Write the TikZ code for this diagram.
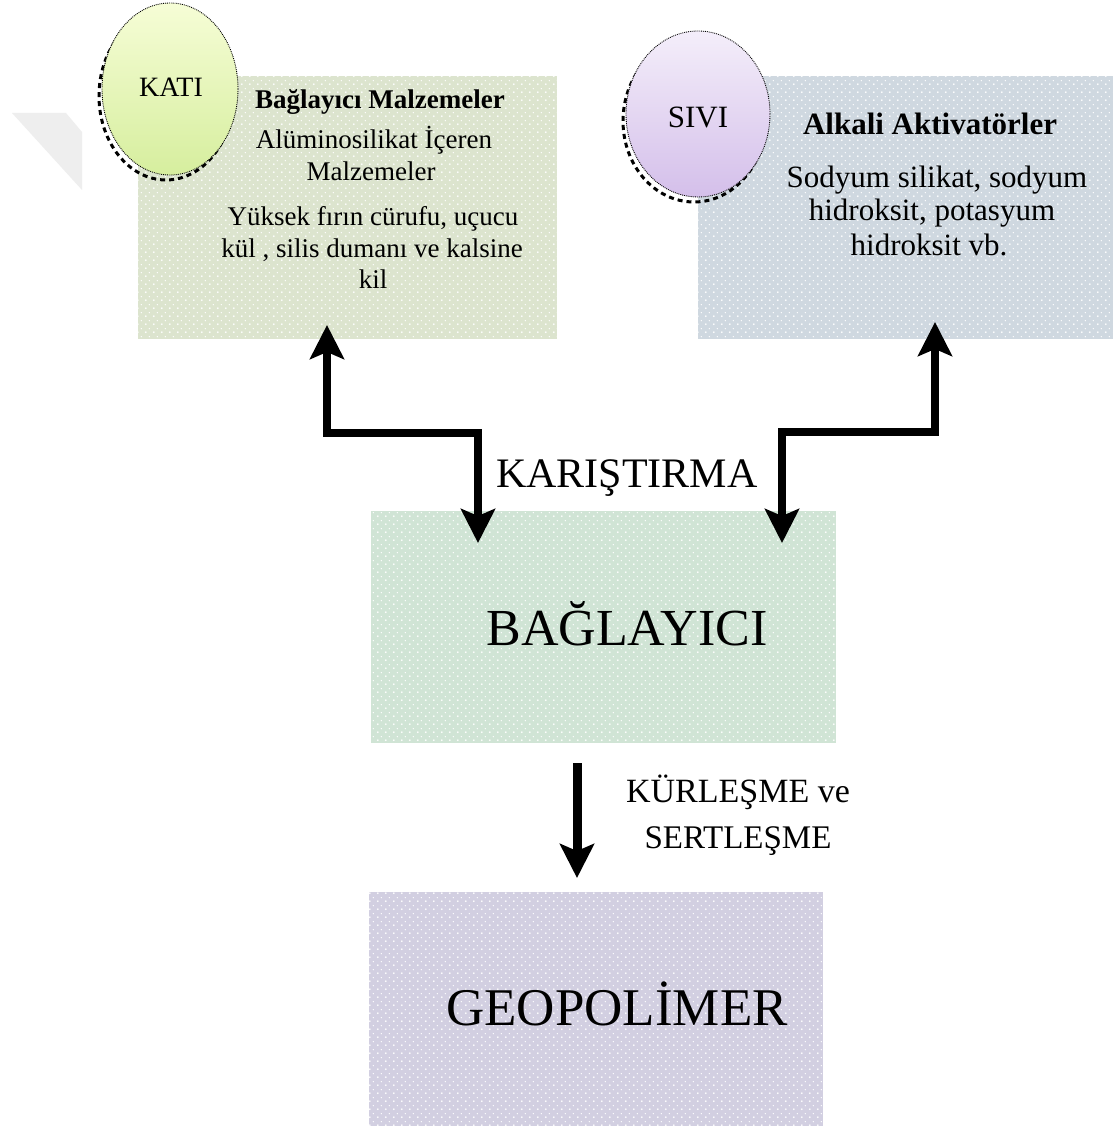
\documentclass[tikz,border=0pt]{standalone}
\usepackage{fontspec}
\setmainfont{Liberation Serif}
\usetikzlibrary{arrows.meta,shapes.geometric,patterns.meta}
\tikzdeclarepattern{
  name=wdots,
  type=uncolored,
  bottom left={(0pt,0pt)},
  top right={(8pt,8pt)},
  tile size={(8pt,8pt)},
  code={\fill (2pt,2pt) circle (1.1pt); \fill (6pt,6pt) circle (0.8pt);}
}
\definecolor{cgreen}{HTML}{DCE4CE}
\definecolor{cblue}{HTML}{CFD8E0}
\definecolor{cmint}{HTML}{D0E4D5}
\definecolor{clav}{HTML}{D2CFE1}
\definecolor{katitop}{HTML}{F6FDD6}
\definecolor{katibot}{HTML}{D6EE9E}
\definecolor{sivitop}{HTML}{F4EEFA}
\definecolor{sivibot}{HTML}{D4BFEA}
\definecolor{wmark}{HTML}{EEEEEE}
\tikzset{
  box/.style={rectangle, draw=none, inner sep=0pt, postaction={pattern=wdots, pattern color=white}},
  blob/.style={ellipse, inner sep=0pt, minimum width=#1},
  blobline/.style={draw=black, line width=0.9pt, densely dotted},
  blobshadow/.style={ellipse, inner sep=0pt, draw=black, line width=3pt, dash pattern=on 5pt off 4pt},
  lbl/.style={inner sep=0pt, anchor=base},
  conn/.style={line width=8pt, line join=miter, -{Stealth[length=34pt,width=34pt,inset=7pt]}},
  biconn/.style={line width=8pt, line join=miter, {Stealth[length=34pt,width=34pt,inset=7pt]}-{Stealth[length=34pt,width=34pt,inset=7pt]}},
}
\begin{document}
\begin{tikzpicture}[x=1pt,y=-1pt]
\useasboundingbox (0,0) rectangle (1113,1126);
\fill[white] (0,0) rectangle (1113,1126);
% faint watermark
\fill[wmark] (12,113) -- (66,113) -- (82,132) -- (82,190) -- cycle;

% boxes
\node[box, fill=cgreen, minimum width=419pt, minimum height=263pt] (solid) at (347.5,207.5) {};
\node[box, fill=cblue, minimum width=415pt, minimum height=263pt] (liquid) at (905.5,207.5) {};
\node[box, fill=cmint, minimum width=465pt, minimum height=232pt] (bind) at (603.5,627) {};
\node[box, fill=clav, minimum width=454pt, minimum height=234pt] (geo) at (596,1009) {};

% ellipses
\node[blobshadow, minimum width=134pt, minimum height=168pt] (katish) at (166,96) {};
\node[blob=136pt, minimum height=172pt, top color=katitop, bottom color=katibot, blobline] (kati) at (170,89) {};
\node[blobshadow, minimum width=142pt, minimum height=162pt] (sivish) at (694,121) {};
\node[blob=144pt, minimum height=166pt, top color=sivitop, bottom color=sivibot, blobline] (sivi) at (698,114) {};
\node[lbl, font=\fontsize{28}{32}\selectfont] (katit) at (171,97) {KATI};
\node[lbl, font=\fontsize{31}{36}\selectfont] (sivit) at (698,128) {SIVI};

% left box text
\node[lbl, font=\fontsize{27}{32}\selectfont\bfseries] (s1) at (380,109) {Bağlayıcı Malzemeler};
\node[lbl, font=\fontsize{27}{32}\selectfont] (s2) at (374,149) {Alüminosilikat İçeren};
\node[lbl, font=\fontsize{27}{32}\selectfont] (s3) at (371,181) {Malzemeler};
\node[lbl, font=\fontsize{27}{32}\selectfont] (s4) at (373,225) {Yüksek fırın cürufu, uçucu};
\node[lbl, font=\fontsize{27}{32}\selectfont] (s5) at (372,257) {kül , silis dumanı ve kalsine};
\node[lbl, font=\fontsize{27}{32}\selectfont] (s6) at (373,288) {kil};

% right box text
\node[lbl, font=\fontsize{31}{36}\selectfont\bfseries] (l1) at (930,135) {Alkali Aktivatörler};
\node[lbl, font=\fontsize{31}{36}\selectfont] (l2) at (937,187) {Sodyum silikat, sodyum};
\node[lbl, font=\fontsize{31}{36}\selectfont] (l3) at (932,220) {hidroksit, potasyum};
\node[lbl, font=\fontsize{31}{36}\selectfont] (l4) at (929,255) {hidroksit vb.};

% main labels
\node[lbl, font=\fontsize{42}{48}\selectfont] (mix) at (627,487) {KARIŞTIRMA};
\node[lbl, font=\fontsize{52}{60}\selectfont] (bindt) at (627,645) {BAĞLAYICI};
\node[lbl, font=\fontsize{34}{40}\selectfont] (cure1) at (738,802) {KÜRLEŞME ve};
\node[lbl, font=\fontsize{33}{40}\selectfont] (cure2) at (738,848) {SERTLEŞME};
\node[lbl, font=\fontsize{53}{60}\selectfont] (geot) at (617,1025) {GEOPOLİMER};

% connector end points
\coordinate (lt) at (327,325);
\coordinate (lm) at (478,433);
\coordinate (lb) at (478,543);
\coordinate (rt) at (935,322);
\coordinate (rm) at (782,432);
\coordinate (rb) at (782,543);
\coordinate (dt) at (577,763);
\coordinate (db) at (577,878);

\draw[biconn] (lt) |- (lm) -- (lb);
\draw[biconn] (rt) |- (rm) -- (rb);
\draw[conn, line width=9pt] (dt) -- (db);
\end{tikzpicture}
\end{document}
